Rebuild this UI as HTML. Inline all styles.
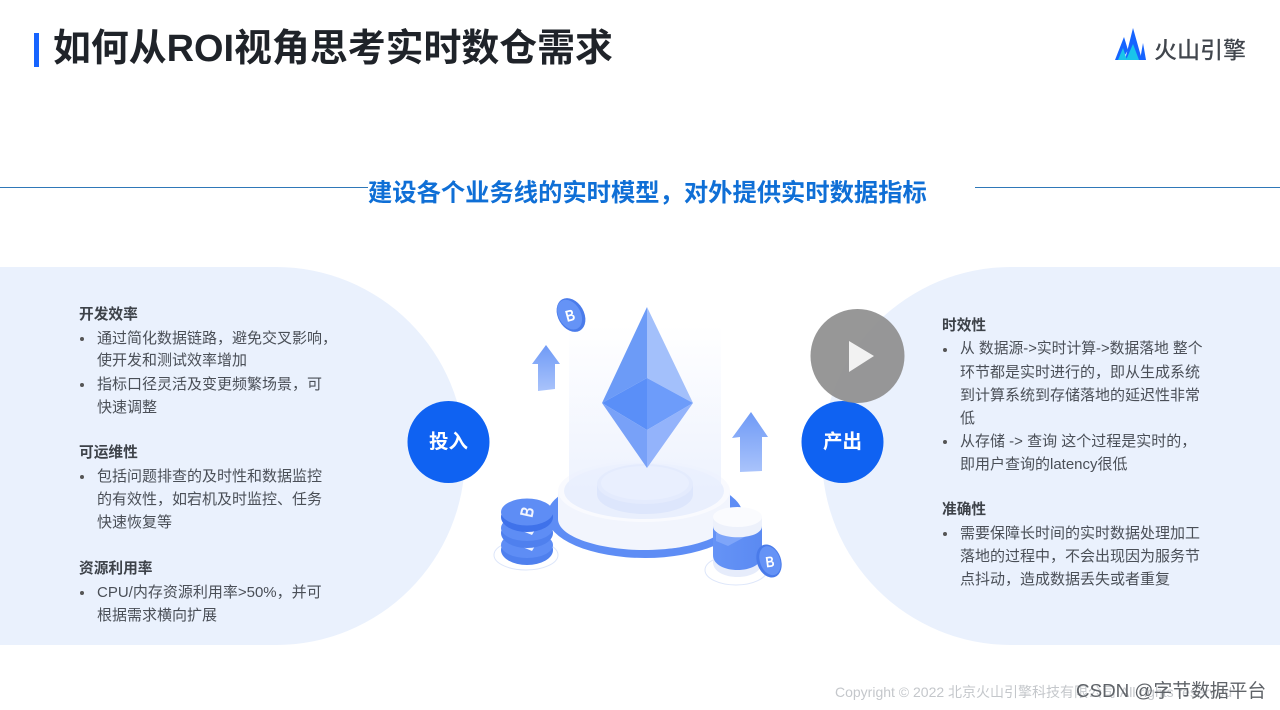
<!DOCTYPE html>
<html lang="zh"><head><meta charset="utf-8"><style>
html,body{margin:0;padding:0;background:#fff}
#p{position:relative;width:1280px;height:710px;overflow:hidden;background:#fff;font-family:"Liberation Sans","Noto Sans CJK SC",sans-serif}
.t{position:absolute;white-space:nowrap;font-size:15px;line-height:23px;color:#4a4f57}
.h{font-weight:700;color:#3d4249;font-size:14.7px}
.b{position:absolute;width:4px;height:4px;border-radius:50%;background:#555}
</style></head><body><div id="p">
<div style="position:absolute;left:34px;top:33px;width:5px;height:34px;background:#1664ff"></div>
<div style="position:absolute;left:53px;top:26px;font-size:37.9px;line-height:46px;font-weight:700;color:#1f2329;white-space:nowrap">如何从ROI视角思考实时数仓需求</div>
<div style="position:absolute;left:0;top:187px;width:368px;height:1px;background:#2f78b8"></div>
<div style="position:absolute;left:975px;top:187px;width:305px;height:1px;background:#2f78b8"></div>
<div style="position:absolute;left:368px;top:177px;font-size:24.3px;line-height:34px;font-weight:700;color:#0f6fd6;white-space:nowrap">建设各个业务线的实时模型，对外提供实时数据指标</div>
<div style="position:absolute;left:-60px;top:267px;width:525px;height:378px;border-radius:0 189px 189px 0;background:#eaf1fd"></div>
<div style="position:absolute;left:822px;top:267px;width:520px;height:378px;border-radius:189px 0 0 189px;background:#eaf1fd"></div>

<svg style="position:absolute;left:0;top:0" width="1280" height="710" viewBox="0 0 1280 710">
<defs>
<linearGradient id="g1" x1="0" y1="0" x2="0" y2="1"><stop offset="0" stop-color="#fff"/><stop offset="1" stop-color="#e9effe"/></linearGradient>
<linearGradient id="ar" x1="0" y1="0" x2="0" y2="1"><stop offset="0" stop-color="#6f9af6"/><stop offset="1" stop-color="#a9c3fb"/></linearGradient>
<linearGradient id="cyl" x1="0" y1="0" x2="1" y2="0"><stop offset="0" stop-color="#6593f6"/><stop offset="1" stop-color="#5b8af2"/></linearGradient>
</defs>
<!-- logo -->
<polygon points="1115,60 1124,37 1128,50 1122,60" fill="#1664ff"/>
<polygon points="1125,60 1133,28 1142,60" fill="#1664ff"/>
<polygon points="1126,60 1133,44 1139,60" fill="#19c4ea"/>
<polygon points="1118,60 1123,48 1127,60" fill="#19c4ea"/>
<polygon points="1140,60 1143,43 1146,60" fill="#1664ff"/>
<!-- base -->
<ellipse cx="645" cy="516" rx="98" ry="42" fill="#5e8df5"/>
<path d="M558,491 V519 C558,537 600,550 644,550 C690,550 730,537 730,519 V491Z" fill="#f2f5fd"/>
<ellipse cx="644" cy="491" rx="86" ry="31" fill="#f9fafe"/>
<ellipse cx="644" cy="491" rx="80" ry="28" fill="#e9effd"/>
<!-- glass -->
<rect x="569" y="325" width="152" height="165" fill="url(#g1)" opacity=".8"/>
<path d="M597,484 V494 C597,506 620,514 645,514 C672,514 693,506 693,494 V484Z" fill="#dde6fc"/>
<ellipse cx="645" cy="484" rx="48" ry="20" fill="#e4ebfd"/>
<ellipse cx="645" cy="483" rx="44" ry="17" fill="#e9effe"/>
<!-- diamond -->
<polygon points="647,307 602,403 647,378" fill="#6c9bf7"/>
<polygon points="647,307 693,403 647,378" fill="#a3c0fb"/>
<polygon points="602,403 647,378 647,430" fill="#5a8ff8"/>
<polygon points="693,403 647,378 647,430" fill="#6d9cfa"/>
<polygon points="602,403 647,430 647,468" fill="#78a1f8"/>
<polygon points="693,403 647,430 647,468" fill="#93b3fb"/>
<!-- arrows -->
<polygon points="546,345 560,364 555,364 555,389 538,391 538,364 532,364" fill="url(#ar)"/>
<polygon points="751,412 768,437 762,437 762,471 740,472 740,437 732,438" fill="url(#ar)"/>
<!-- floating coin -->
<g transform="rotate(-30 571 315)"><ellipse cx="571" cy="315" rx="13" ry="18" fill="#4a7bea"/><ellipse cx="570" cy="314" rx="11" ry="16" fill="#6593f6"/></g>
<text x="0" y="0" font-size="16" font-weight="700" fill="#fff" text-anchor="middle" transform="translate(570,315) rotate(-15) scale(.8,1) translate(0,6)">B</text>
<!-- coin stack -->
<ellipse cx="526" cy="555" rx="32" ry="15" fill="#fff" stroke="#dde6fa"/>
<ellipse cx="527" cy="550" rx="26" ry="15" fill="#4f80ee"/>
<ellipse cx="527" cy="545" rx="26" ry="13" fill="#5e8df5"/>
<path d="M520,546 L538,541 L532,551 Z" fill="#eef3fd"/>
<ellipse cx="527" cy="533" rx="26" ry="15" fill="#4f80ee"/>
<ellipse cx="527" cy="528" rx="26" ry="13" fill="#5e8df5"/>
<path d="M520,530 L538,525 L532,535 Z" fill="#eef3fd"/>
<ellipse cx="527" cy="517" rx="26" ry="15" fill="#3f72ea"/>
<ellipse cx="527" cy="512" rx="26" ry="13.500" fill="#5e8df5"/>
<text x="0" y="0" font-size="17" font-weight="700" fill="#f2f5fe" text-anchor="middle" transform="translate(527,512) rotate(-78) scale(.8,1.1) translate(0,6)">B</text>
<!-- cylinder -->
<ellipse cx="736" cy="570" rx="31" ry="15" fill="#fff" stroke="#dde6fa"/>
<path d="M713,522 V562 C713,582 762,582 762,562 V522Z" fill="#e6ecfb"/>
<path d="M713,522 V555 C713,575 762,575 762,555 V522Z" fill="url(#cyl)"/>
<path d="M716,533 L752,533 L728,546 L716,541Z" fill="#7ea5f9"/>
<path d="M713,517 V526 C713,541 762,541 762,526 V517Z" fill="#edf1fb"/>
<ellipse cx="737.500" cy="517" rx="24.500" ry="10" fill="#fafbfe"/>
<g transform="rotate(-20 769 561)"><ellipse cx="769" cy="561" rx="12" ry="17" fill="#4a7bea"/><ellipse cx="770" cy="561" rx="10" ry="15" fill="#6593f6"/></g>
<text x="0" y="0" font-size="15" font-weight="700" fill="#fff" text-anchor="middle" transform="translate(770,562) rotate(-8) scale(.8,1) translate(0,5)">B</text>
<!-- blue circles -->
<circle cx="448.500" cy="442" r="41" fill="#0f62f2"/>
<circle cx="842.500" cy="442" r="41" fill="#0f62f2"/>
<!-- play -->
<circle cx="857.500" cy="356" r="47" fill="#8f8f8f" opacity=".93"/>
<polygon points="849,341 849,372 874,356" fill="#f2f2f2"/>
</svg>
<div style="position:absolute;left:1154px;top:35px;font-size:23px;line-height:30px;font-weight:500;color:#41464d;white-space:nowrap">火山引擎</div>
<div style="position:absolute;left:429px;top:428px;font-size:19.500px;line-height:28px;font-weight:700;color:#fff">投入</div>
<div style="position:absolute;left:823px;top:428px;font-size:19.500px;line-height:28px;font-weight:700;color:#fff">产出</div>

<div class="t h" style="left:79px;top:304px">开发效率</div>
<div class="b" style="left:80px;top:337px"></div>
<div class="t" style="left:97px;top:327px">通过简化数据链路，避免交叉影响，</div>
<div class="t" style="left:97px;top:349px">使开发和测试效率增加</div>
<div class="b" style="left:80px;top:383px"></div>
<div class="t" style="left:97px;top:373px">指标口径灵活及变更频繁场景，可</div>
<div class="t" style="left:97px;top:396px">快速调整</div>
<div class="t h" style="left:79px;top:442px">可运维性</div>
<div class="b" style="left:80px;top:475px"></div>
<div class="t" style="left:97px;top:465px">包括问题排查的及时性和数据监控</div>
<div class="t" style="left:97px;top:488px">的有效性，如宕机及时监控、任务</div>
<div class="t" style="left:97px;top:511px">快速恢复等</div>
<div class="t h" style="left:79px;top:558px">资源利用率</div>
<div class="b" style="left:80px;top:591px"></div>
<div class="t" style="left:97px;top:581px">CPU/内存资源利用率&gt;50%，并可</div>
<div class="t" style="left:97px;top:604px">根据需求横向扩展</div>

<div class="t h" style="left:942px;top:315px">时效性</div>
<div class="b" style="left:943px;top:348px"></div>
<div class="t" style="left:960px;top:338px;font-size:14.8px">从 数据源-&gt;实时计算-&gt;数据落地 整个</div>
<div class="t" style="left:960px;top:361px">环节都是实时进行的，即从生成系统</div>
<div class="t" style="left:960px;top:384px">到计算系统到存储落地的延迟性非常</div>
<div class="t" style="left:960px;top:407px">低</div>
<div class="b" style="left:943px;top:440px"></div>
<div class="t" style="left:960px;top:430px">从存储 -&gt; 查询 这个过程是实时的，</div>
<div class="t" style="left:960px;top:453px">即用户查询的latency很低</div>
<div class="t h" style="left:942px;top:499px">准确性</div>
<div class="b" style="left:943px;top:532px"></div>
<div class="t" style="left:960px;top:522px">需要保障长时间的实时数据处理加工</div>
<div class="t" style="left:960px;top:545px">落地的过程中，不会出现因为服务节</div>
<div class="t" style="left:960px;top:568px">点抖动，造成数据丢失或者重复</div>

<div style="position:absolute;left:835px;top:682px;font-size:14px;line-height:20px;color:#c4c7cb;white-space:nowrap">Copyright © 2022 北京火山引擎科技有限公司 All rights reserved</div>
<div style="position:absolute;left:1076px;top:679px;font-size:18.800px;line-height:24px;color:#5f6368;white-space:nowrap">CSDN @字节数据平台</div>
</div></body></html>
